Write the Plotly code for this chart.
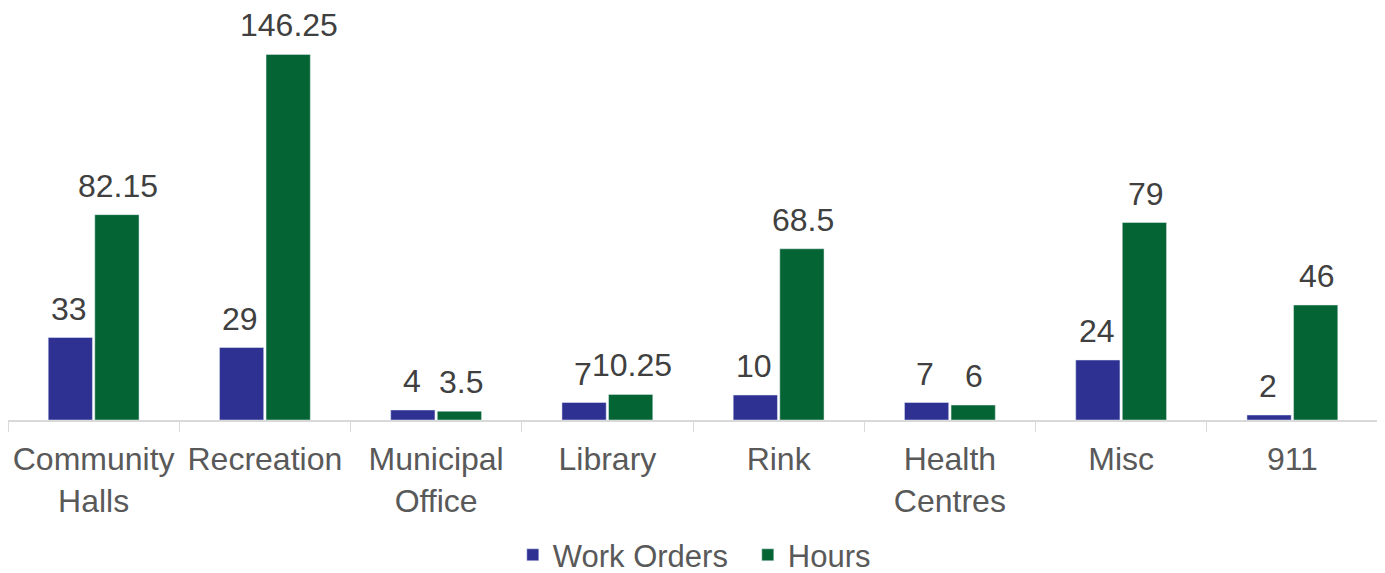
import plotly.graph_objects as go

# categories and values
categories = ['Community<br>Halls', 'Recreation', 'Municipal<br>Office', 'Library',
              'Rink', 'Health<br>Centres', 'Misc', '911']
work_orders = [33, 29, 4, 7, 10, 7, 24, 2]
hours = [82.15, 146.25, 3.5, 10.25, 68.5, 6, 79, 46]

font_family = 'Liberation Sans, Arial, sans-serif'
label_color = '#404040'

fig = go.Figure()

fig.add_trace(go.Bar(x=categories, y=work_orders, name='Work Orders',
                     marker_color='#2e3192', cliponaxis=False))
fig.add_trace(go.Bar(x=categories, y=hours, name='Hours',
                     marker_color='#046433', cliponaxis=False))

# data labels sit a bit higher above the bars than plotly's "outside" text
# (x given as category index, since "911" would otherwise be read as a number)
for i, v in enumerate(work_orders):
    fig.add_annotation(x=i, y=v, text=str(v), showarrow=False, xshift=-24.5,
                       yanchor='bottom', yshift=10, borderpad=0,
                       font=dict(size=32, color=label_color))
for i, v in enumerate(hours):
    fig.add_annotation(x=i, y=v, text=str(v), showarrow=False, xshift=24.5,
                       yanchor='bottom', yshift=10, borderpad=0,
                       font=dict(size=32, color=label_color))

# the page body adds an 8px offset, so the figure is sized to fit inside it
fig.update_layout(
    width=1377,
    height=565,
    barmode='group',
    bargap=0.456,
    bargroupgap=0.05,
    plot_bgcolor='white',
    paper_bgcolor='white',
    font=dict(family=font_family, size=32, color='#595959'),
    margin=dict(l=0, r=7, t=0, b=153, autoexpand=False),
    showlegend=True,
    legend=dict(orientation='h', x=0.54, xanchor='center',
                y=-0.328, yanchor='middle',
                font=dict(size=31, color='#595959'), itemwidth=30,
                entrywidth=190),
)

fig.update_xaxes(
    type='category', tickangle=0,
    showline=True, linecolor='#d9d9d9', linewidth=2,
    ticks='outside', tickson='boundaries', ticklen=10, tickcolor='#d9d9d9',
    tickfont=dict(size=32, color='#595959'), ticklabelstandoff=10,
    automargin=False,
)
fig.update_yaxes(visible=False, range=[0, 164.8], showgrid=False, automargin=False)

fig.write_html("out.html")
